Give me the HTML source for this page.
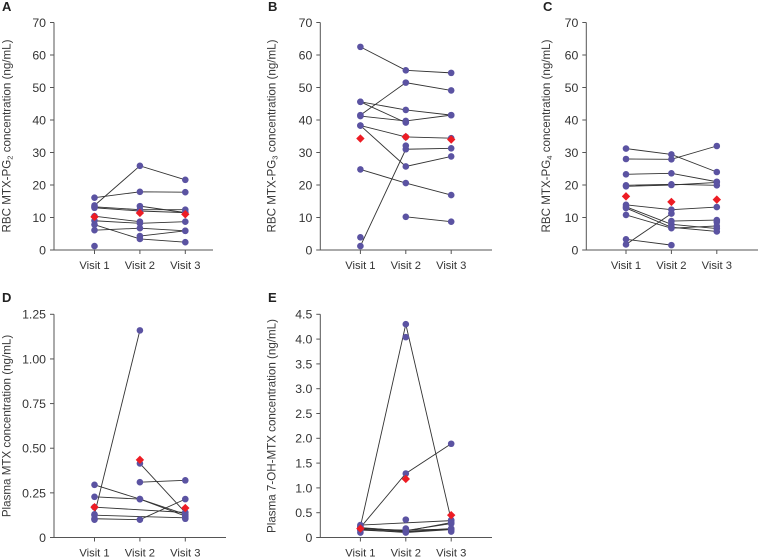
<!DOCTYPE html>
<html><head><meta charset="utf-8"><title>MTX concentration by visit</title>
<style>
html,body{margin:0;padding:0;background:#fff}
svg{display:block}
text{font-family:"Liberation Sans",sans-serif;fill:#333}
.pl{font-size:13px;font-weight:bold;fill:#222}
.yt{font-size:11.6px;fill:#3a3a3a}
.sub{font-size:7.5px}
</style></head>
<body>
<svg id="fig" xmlns="http://www.w3.org/2000/svg" width="759" height="558" viewBox="0 0 759 558">
<text class="pl" x="2" y="11">A</text>
<text class="pl" x="268" y="11">B</text>
<text class="pl" x="543" y="11">C</text>
<text class="pl" x="2" y="302">D</text>
<text class="pl" x="268" y="302">E</text>
<text class="yt" transform="translate(10.5,136) rotate(-90)" text-anchor="middle">RBC MTX-PG<tspan class="sub" dy="2">2</tspan><tspan dy="-2"> concentration (ng/mL)</tspan></text>
<text class="yt" transform="translate(275.5,136) rotate(-90)" text-anchor="middle">RBC MTX-PG<tspan class="sub" dy="2">3</tspan><tspan dy="-2"> concentration (ng/mL)</tspan></text>
<text class="yt" transform="translate(550,136) rotate(-90)" text-anchor="middle">RBC MTX-PG<tspan class="sub" dy="2">4</tspan><tspan dy="-2"> concentration (ng/mL)</tspan></text>
<text class="yt" transform="translate(10.5,426) rotate(-90)" text-anchor="middle">Plasma MTX concentration (ng/mL)</text>
<text class="yt" transform="translate(275.5,426) rotate(-90)" text-anchor="middle">Plasma 7-OH-MTX concentration (ng/mL)</text>
</svg>
<script>
const visits = ["Visit 1", "Visit 2", "Visit 3"];

const ticksA = [0, 10, 20, 30, 40, 50, 60, 70];
const seriesA = [
  [13.7, 25.9, 21.6],
  [16.1, 17.9, 17.8],
  [13.3, 12.4, 12.4],
  [13.0, 12.0, 11.5],
  [null, 13.5, 11.5],
  [10.4, 8.7, null],
  [9.0, 8.2, 8.7],
  [6.1, 6.7, 5.9],
  [7.8, 3.4, 2.4],
  [null, 4.3, 5.9],
  [1.2, null, null]
];
const meanA = [10.2, 11.4, 11.0];

const ticksB = [0, 10, 20, 30, 40, 50, 60, 70];
const seriesB = [
  [62.5, 55.3, 54.5],
  [41.5, 51.5, 49.1],
  [45.6, 43.1, 41.5],
  [45.6, 39.2, null],
  [41.2, 39.7, 41.5],
  [38.3, 34.8, 34.4],
  [38.3, 25.7, 28.8],
  [24.8, 20.6, 16.9],
  [null, 10.2, 8.7],
  [1.2, 31.0, 31.3],
  [3.9, null, null],
  [null, 32.1, null]
];
const meanB = [34.3, 34.8, 34.0];

const ticksC = [0, 10, 20, 30, 40, 50, 60, 70];
const seriesC = [
  [31.2, 29.4, 24.0],
  [28.0, 27.9, 32.0],
  [23.3, 23.6, 21.0],
  [19.9, 20.2, 19.9],
  [19.6, 20.0, 20.8],
  [13.9, 12.4, 13.2],
  [13.3, 7.9, 6.6],
  [12.9, 7.0, 5.7],
  [10.8, 6.7, 7.4],
  [3.3, 1.5, null],
  [1.7, 11.2, null],
  [null, 8.9, 9.2],
  [null, null, 8.6]
];
const meanC = [16.5, 14.8, 15.5];

const ticksD = [0, 0.25, 0.5, 0.75, 1, 1.25];
const tickLabelsD = ["0", "0.25", "0.50", "0.75", "1.00", "1.25"];
const seriesD = [
  [0.13, 1.16, null],
  [0.295, 0.215, 0.13],
  [0.228, 0.215, 0.12],
  [0.17, null, 0.14],
  [0.125, null, 0.11],
  [0.105, 0.10, 0.215],
  [0.10, null, null],
  [null, null, 0.105],
  [null, 0.31, 0.32],
  [null, 0.415, 0.14]
];
const meanD = [0.17, 0.435, 0.165];

const ticksE = [0, 0.5, 1, 1.5, 2, 2.5, 3, 3.5, 4, 4.5];
const tickLabelsE = ["0", "0.5", "1.0", "1.5", "2.0", "2.5", "3.0", "3.5", "4.0", "4.5"];
const seriesE = [
  [0.22, 4.30, 0.35],
  [null, 4.04, null],
  [0.20, 1.29, 1.89],
  [0.25, null, 0.34],
  [0.20, 0.13, 0.30],
  [0.19, 0.14, 0.28],
  [0.18, 0.12, 0.18],
  [0.17, 0.15, 0.17],
  [0.16, 0.10, 0.16],
  [0.15, 0.11, 0.17],
  [0.10, null, null],
  [null, 0.18, null],
  [null, null, 0.12],
  [null, 0.36, null]
];
const meanE = [0.18, 1.18, 0.45];

const svg = document.getElementById('fig');
const NS = 'http://www.w3.org/2000/svg';

function make(tag, attrs, parent) {
  const el = document.createElementNS(NS, tag);
  for (const k in attrs) el.setAttribute(k, attrs[k]);
  parent.appendChild(el);
  return el;
}

function drawPanel(id, frame, ticks, tickLabels, series, mean) {
  const g = make('g', {}, svg);
  
  
  const yMax = ticks[ticks.length - 1];
  const yScale = v => frame.bottom - (v / yMax) * (frame.bottom - frame.top);
  const xScale = i => frame.vx0 + i * frame.vstep;

  const axisColor = '#555';
  const yAxis = make('line', {x1: frame.left, x2: frame.left, y1: frame.top, y2: frame.bottom, stroke: axisColor, 'stroke-width': 1}, g);
  
  
  const xAxis = make('line', {x1: frame.left - 4, x2: frame.right, y1: frame.bottom, y2: frame.bottom, stroke: axisColor, 'stroke-width': 1}, g);
  
  

  ticks.forEach((t, i) => {
    const y = yScale(t);
    const tick = make('line', {x1: frame.left - 4, x2: frame.left, y1: y, y2: y, stroke: axisColor, 'stroke-width': 1}, g);
    
    
    const lab = make('text', {x: frame.left - 8, y: y + 4.4, 'text-anchor': 'end', 'font-size': 12.3}, g);
    
    
    lab.textContent = tickLabels ? tickLabels[i] : String(t);
  });

  visits.forEach((v, i) => {
    const x = xScale(i);
    const tick = make('line', {x1: x, x2: x, y1: frame.bottom, y2: frame.bottom + 4, stroke: axisColor, 'stroke-width': 1}, g);
    
    
    const lab = make('text', {x: x, y: frame.bottom + 19, 'text-anchor': 'middle', 'font-size': 11.2}, g);
    
    
    lab.textContent = v;
  });

  series.forEach(s => {
    const pts = [];
    s.forEach((v, i) => { if (v !== null) pts.push(xScale(i) + ',' + yScale(v)); });
    if (pts.length > 1) {
      const line = make('polyline', {points: pts.join(' '), fill: 'none', stroke: '#333', 'stroke-width': 0.9}, g);
      
      
    }
  });
  series.forEach(s => {
    s.forEach((v, i) => {
      if (v === null) return;
      const c = make('circle', {cx: xScale(i), cy: yScale(v), r: 3.3, fill: '#5b53a2'}, g);
      
      
    });
  });
  mean.forEach((v, i) => {
    const x = xScale(i), y = yScale(v), r = 4.2;
    const d = make('polygon', {points: [x, y - r, x + r, y, x, y + r, x - r, y].join(' '), fill: '#ed1c24'}, g);
    
    
  });
}

drawPanel('a', {left: 54, right: 213, top: 22.5, bottom: 250, vx0: 94.5, vstep: 45.4}, ticksA, null, seriesA, meanA);
drawPanel('b', {left: 320.3, right: 492, top: 22.5, bottom: 250, vx0: 360.4, vstep: 45.4}, ticksB, null, seriesB, meanB);
drawPanel('c', {left: 586.3, right: 758, top: 22.5, bottom: 250, vx0: 626, vstep: 45.4}, ticksC, null, seriesC, meanC);
drawPanel('d', {left: 54, right: 226, top: 314.3, bottom: 537.5, vx0: 94.5, vstep: 45.4}, ticksD, tickLabelsD, seriesD, meanD);
drawPanel('e', {left: 320.3, right: 492, top: 314.3, bottom: 537.5, vx0: 360.4, vstep: 45.4}, ticksE, tickLabelsE, seriesE, meanE);
</script>
</body></html>
